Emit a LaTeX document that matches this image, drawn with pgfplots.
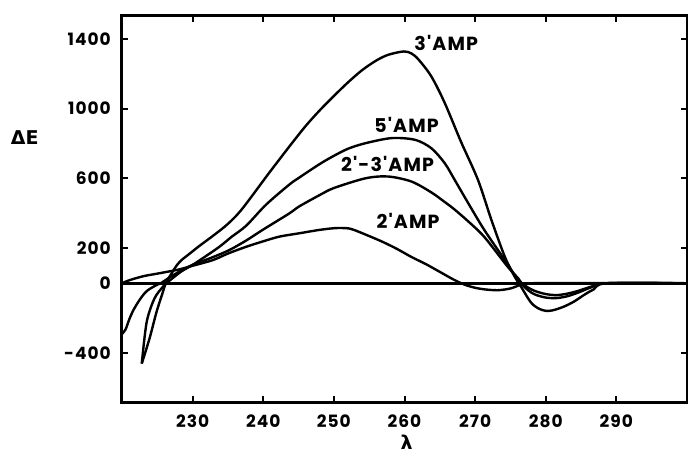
\documentclass[border=0pt]{standalone}
\usepackage{fontspec}
\usepackage{pgfplots}
\pgfplotsset{compat=1.18}
\newfontfamily\lbl{Poppins}[LetterSpace=6]
\newfontfamily\grk{DejaVu Sans}

\begin{document}
\begin{tikzpicture}
\begin{axis}[
    name=ax,
    scale only axis,
    width=565pt, height=386pt,
    xmin=220, xmax=300,
    ymin=-680, ymax=1530,
    tick align=inside,
    major tick length=6pt,
    tick style={line width=2pt, black},
    xtick={230,240,250,260,270,280,290},
    xticklabels={230,240,250,260,270,280,290},
    ytick={-400,0,200,600,1000,1400},
    yticklabels={-400,0,200,600,1000,1400},
    ticklabel style={font=\lbl\bfseries\fontsize{17}{17}\selectfont, inner sep=0pt},
    yticklabel style={xshift=-11pt},
    xticklabel style={yshift=-13pt},
    clip=false,
    cycle list={{black, solid, mark=none}},
    every axis plot/.append style={line width=2.4pt, smooth},
]
% frame
\draw[line width=3pt] (rel axis cs:0,0) rectangle (rel axis cs:1,1);

% zero line
\addplot[line width=3.4pt, sharp plot] coordinates {(220,0) (300,0)};

% 3'AMP
\addplot coordinates {
    (222.8,-460) (223.9,-316) (224.9,-163) (225.8,-49) (226.2,0)
    (227,55) (227.8,105) (228.5,135) (229.6,170) (231,215) (233,275)
    (235,340) (237,425) (240.8,630) (243.7,783) (246,900) (248,990)
    (250,1072) (252,1150) (254,1220) (256,1275) (257.7,1308) (259.9,1327)
    (261,1315) (262,1280) (263.8,1184) (265.7,1032) (268,810) (270.4,592)
    (272.3,363) (274.2,152) (275.5,45) (276.5,-20) (277.9,-110) (279,-145)
    (280,-158) (281,-155) (282.5,-135) (284,-105) (285.5,-65) (286.8,-35)
    (288.7,0) (300,0)
};

% 5'AMP
\addplot coordinates {
    (222.8,-460) (223.5,-221) (224.6,-87) (225.8,-20) (226.3,0)
    (227.5,40) (228.5,70) (230,105) (231.5,145) (233.8,209) (235.5,265)
    (237.6,330) (240.4,450) (243.7,565) (245.1,605) (247.9,680) (249.8,725)
    (252,770) (254.5,802) (258.2,831) (261.5,821) (263.8,773) (265.7,687)
    (267.1,592) (269,460) (271.3,305) (274.2,133) (276.1,18) (277.5,-40)
    (278.5,-65) (280,-82) (281.5,-85) (283,-75) (284.5,-55) (286,-30)
    (287.5,-8) (288.5,0) (300,0)
};

% 2'-3'AMP
\addplot coordinates {
    (220,-290) (220.5,-265) (221,-210) (221.6,-155) (222.5,-95) (223.5,-45)
    (224.9,-10) (225.5,0) (227,40) (228.5,75) (230,105) (232.9,150)
    (235.2,190) (237.6,245) (239.9,305) (243.7,400) (245.1,440) (248,505)
    (250,545) (254.5,601) (257.7,611) (261,582) (263.8,520) (265.7,465)
    (267,425) (269,355) (271.3,265) (274.6,95) (276.1,28) (276.6,0)
    (277.5,-25) (278.5,-45) (280,-62) (281.5,-68) (283,-60) (284.5,-45)
    (286,-25) (287.5,-7) (288.5,0) (300,0)
};

% 2'AMP
\addplot coordinates {
    (220,0) (221.1,18) (223,40) (225,55) (227,70) (228.2,80) (230,100)
    (232.9,133) (235,170) (237.6,209) (240,240) (242.3,267) (245.1,286)
    (247.9,305) (250,315) (251.2,316) (252.5,310) (255,270) (257,235)
    (259,195) (261,150) (263,110) (265,65) (267,20) (268.5,-8)
    (269.9,-25) (271.3,-35) (273.2,-40) (275,-30) (276.5,-8) (277.5,0) (300,0)
};

\node[font=\lbl\bfseries\fontsize{19}{19}\selectfont] at (axis cs:265.9,1377) {3'AMP};
\node[font=\lbl\bfseries\fontsize{19}{19}\selectfont] at (axis cs:260.3,907) {5'AMP};
\node[font=\lbl\bfseries\fontsize{19}{19}\selectfont] at (axis cs:257.6,683) {2'-3'AMP};
\node[font=\lbl\bfseries\fontsize{19}{19}\selectfont] at (axis cs:260.5,357) {2'AMP};
\node[font=\grk\bfseries\fontsize{19}{19}\selectfont] at (rel axis cs:-0.172,0.684) {ΔE};
\node[font=\grk\bfseries\fontsize{19}{19}\selectfont] at (rel axis cs:0.504,-0.105) {λ};
\end{axis}
\pgfresetboundingbox
\useasboundingbox ([shift={(-122pt,-55pt)}]ax.south west) rectangle ([shift={(1pt,16pt)}]ax.north east);
\end{tikzpicture}
\end{document}
